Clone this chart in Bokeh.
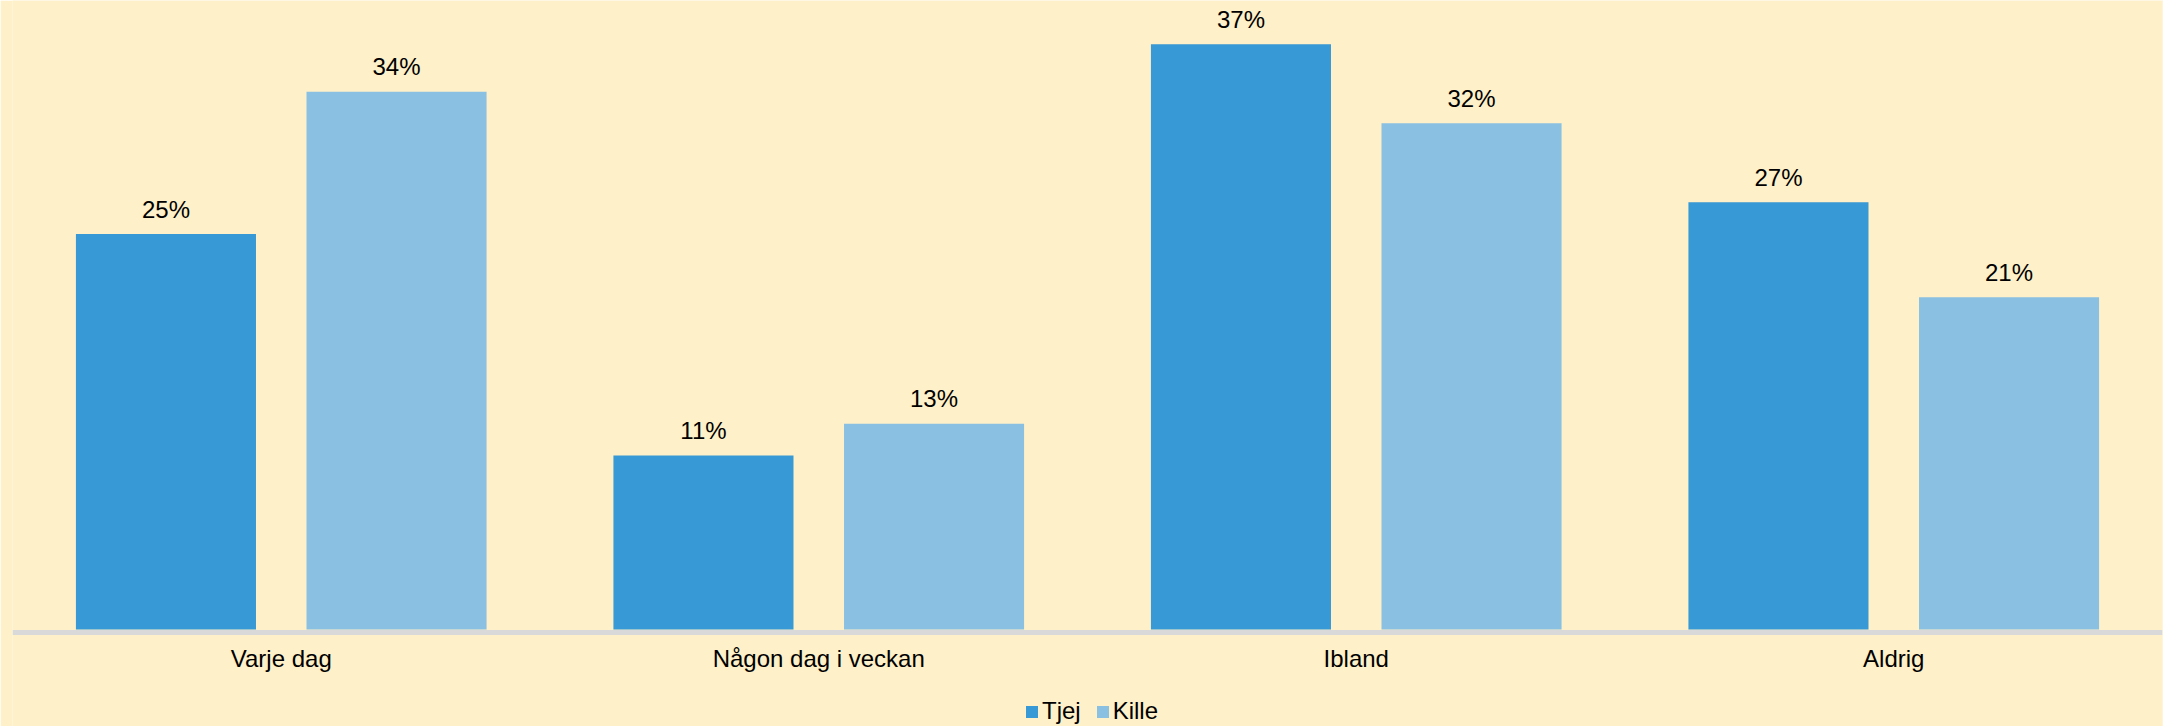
from bokeh.plotting import figure
from bokeh.models import ColumnDataSource, Legend, LegendItem, FactorRange, Range1d
from bokeh.transform import dodge
from bokeh.core.properties import value
from bokeh.embed import file_html
from bokeh.resources import INLINE

categories = ["Varje dag", "Någon dag i veckan", "Ibland", "Aldrig"]
tjej = [25, 11, 37, 27]
kille = [34, 13, 32, 21]
series_names = ["Tjej", "Kille"]

BG = "#FEF0C8"
C_TJEJ = "#3799D5"
C_KILLE = "#8AC1E3"
FONT = "Liberation Sans"

src = ColumnDataSource(data=dict(
    cat=categories,
    tjej=tjej,
    kille=kille,
    tjej_lbl=[f"{v}%" for v in tjej],
    kille_lbl=[f"{v}%" for v in kille],
))

p = figure(
    x_range=FactorRange(*categories, range_padding=0),
    y_range=Range1d(-6.13, 39.76),
    width=2163, height=726,
    output_backend="svg", toolbar_location=None,
    min_border_left=12, min_border_right=1, min_border_top=0, min_border_bottom=0,
    background_fill_color=BG, border_fill_color=BG, outline_line_color=None,
)

off = 0.2145
w = 0.335
r1 = p.vbar(x=dodge("cat", -off, range=p.x_range), top="tjej", bottom=0, width=w, source=src,
            fill_color=C_TJEJ, line_color=None)
r2 = p.vbar(x=dodge("cat", off, range=p.x_range), top="kille", bottom=0, width=w, source=src,
            fill_color=C_KILLE, line_color=None)

for xo, col in ((-off, "tjej"), (off, "kille")):
    p.text(x=dodge("cat", xo, range=p.x_range), y=col, text=col + "_lbl", source=src,
           text_align="center", text_baseline="alphabetic", y_offset=-25,
           text_font=value(FONT), text_font_size="24px", text_color="#000000")

p.yaxis.visible = False
p.grid.visible = False
p.xaxis.fixed_location = -0.158
p.xaxis.axis_line_color = "#D9D9D9"
p.xaxis.axis_line_width = 5
p.xaxis.major_tick_line_color = None
p.xaxis.minor_tick_line_color = None
p.xaxis.major_label_standoff = 7
p.xaxis.major_label_text_font = FONT
p.xaxis.major_label_text_font_size = "24px"
p.xaxis.major_label_text_color = "#000000"

legend = Legend(
    items=[LegendItem(label=series_names[0], renderers=[r1]),
           LegendItem(label=series_names[1], renderers=[r2])],
    orientation="horizontal", location=(1012, 1),
    glyph_width=15, glyph_height=15, label_height=15, label_standoff=3, spacing=14,
    label_text_font=FONT, label_text_font_size="24px", label_text_color="#000000",
    border_line_color=None, background_fill_alpha=0, padding=0, margin=0,
)
p.add_layout(legend, "center")

open("out.html", "w").write(file_html(p, INLINE))
